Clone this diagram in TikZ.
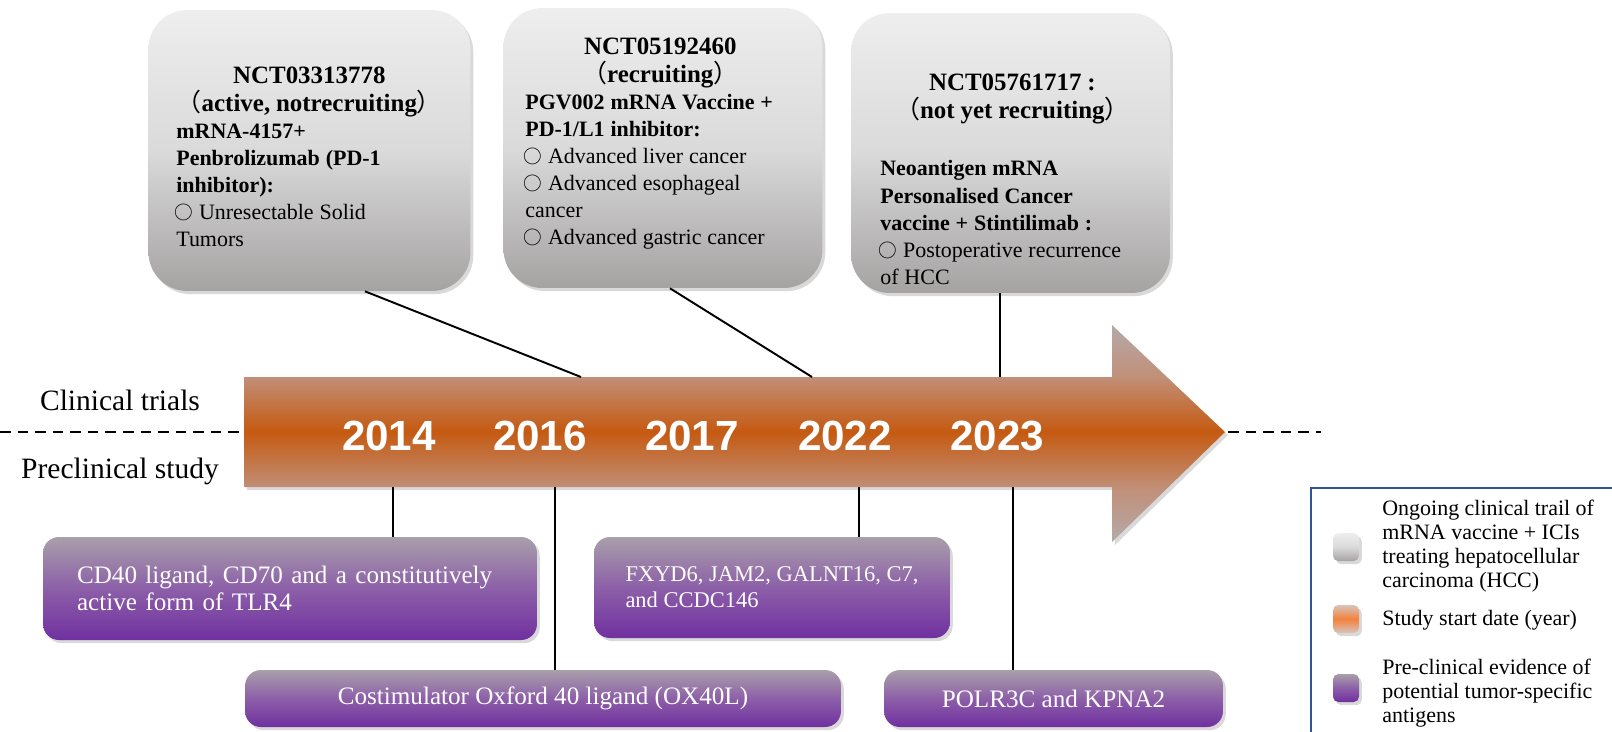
\documentclass[tikz,border=0pt]{standalone}
\usepackage{fontspec}
\setmainfont{Liberation Serif}
\newfontfamily\yearfont{Liberation Sans}
\newfontfamily\cjk{Noto Sans CJK SC}
\usetikzlibrary{shadows,calc}

\definecolor{boxtop}{HTML}{EEEEEE}
\definecolor{boxmid}{HTML}{DADADA}
\definecolor{boxbot}{HTML}{A5A2A2}
\definecolor{purtop}{HTML}{A99FAA}
\definecolor{purmid}{HTML}{8C5FA8}
\definecolor{purbot}{HTML}{7030A0}
\definecolor{arrgray}{HTML}{B5A9A9}
\definecolor{arrtan}{HTML}{C18F78}
\definecolor{arrmid}{HTML}{C55A11}
\definecolor{legblue}{HTML}{2F5597}
\definecolor{legorange}{HTML}{F4813B}
\definecolor{legpale}{HTML}{D8C4BC}

\pgfdeclareverticalshading{timeline}{100bp}{color(0bp)=(arrgray); color(25bp)=(arrgray); color(37.5bp)=(arrtan); color(50.5bp)=(arrmid); color(63bp)=(arrtan); color(75bp)=(arrgray); color(100bp)=(arrgray)}

\newcommand{\hdfont}{\fontsize{14.2}{15.4}\selectfont\bfseries}
\newcommand{\bdfont}{\fontsize{12.5}{15.4}\selectfont\bfseries}
\newcommand{\rgfont}{\fontsize{12.5}{15.4}\selectfont\mdseries}
\newcommand{\cjkl}{{\cjk\mdseries （}}
\newcommand{\cjkr}{{\cjk\mdseries ）}}
\newcommand{\bul}{{\cjk\mdseries\fontsize{10.6}{15.4}\selectfont\hspace{-1pt}○}}

\tikzset{
  softshadow/.style={drop shadow={opacity=.3, shadow xshift=1.6pt, shadow yshift=-1.8pt}},
  trialbox/.style={rectangle, rounded corners=22pt, top color=boxtop, bottom color=boxbot, middle color=boxmid, softshadow},
  trialtext/.style={inner sep=0pt, anchor=north west, text width=#1},
  prebox/.style={rectangle, rounded corners=9pt, top color=purtop, bottom color=purbot, middle color=purmid, softshadow,
    text=white, align=left, font=\fontsize{14.3}{15}\selectfont},
  yearlabel/.style={text=white, font=\yearfont\bfseries\fontsize{24}{24}\selectfont},
  sidelabel/.style={font=\fontsize{16.8}{17}\selectfont},
  conn/.style={line width=1.1pt},
  midline/.style={line width=1.1pt, dash pattern=on 6pt off 4pt},
  legicon/.style={rectangle, rounded corners=3pt, minimum width=.52cm, minimum height=.56cm, softshadow},
  legtext/.style={inner sep=0pt, anchor=west, align=left, font=\fontsize{12.5}{13.7}\selectfont}
}

\begin{document}
\begin{tikzpicture}[x=0.02cm, y=-0.02cm]
  \useasboundingbox (0,0) rectangle (1612,731);
  \clip (0,0) rectangle (1612,731);

  \coordinate (tail) at (244,432);
  \coordinate (tip) at (1228,432);
  \draw[midline] (0,432) -- (tail);
  \draw[midline] (tip) -- (1321,432);

  \shade[shading=timeline, softshadow] (244,377) -- (1112,377) -- (1112,325) -- (1225,432)
    -- (1112,542) -- (1112,487) -- (244,487) -- cycle;

  \foreach \yr/\xx in {2014/389, 2016/540, 2017/692, 2022/845, 2023/997}
    \node[yearlabel] (y\yr) at (\xx,436) {\yr};

  \node[sidelabel] (clin) at (120,400) {Clinical trials};
  \node[sidelabel] (precl) at (120,471) {Preclinical study};

  \node[trialbox, minimum width=6.44cm, minimum height=5.62cm] (t1) at (309.5,150.5) {};
  \node[trialbox, minimum width=6.38cm, minimum height=5.6cm] (t2) at (663,148) {};
  \node[trialbox, minimum width=6.38cm, minimum height=5.6cm] (t3) at (1010.5,153) {};

  \node[trialtext=5.32cm] (tx1) at (176,67) {{\centering\hdfont NCT03313778\\\cjkl active, notrecruiting\cjkr\par}
    {\raggedright\bdfont mRNA-4157+\\Penbrolizumab (PD-1\\inhibitor):\\\rgfont \bul\ Unresectable Solid\\Tumors\par}};
  \node[trialtext=5.4cm] (tx2) at (525,38) {{\centering\hdfont NCT05192460\\\cjkl recruiting\cjkr\par}
    {\raggedright\bdfont PGV002 mRNA Vaccine +\\PD-1/L1 inhibitor:\\\rgfont \bul\ Advanced liver cancer\\\bul\ Advanced esophageal\\cancer\\\bul\ Advanced gastric cancer\par}};
  \node[trialtext=5.28cm] (tx3) at (880,74) {{\centering\hdfont NCT05761717 :\\\cjkl not yet recruiting\cjkr\par}
    \vspace{17.6pt}
    {\raggedright\bdfont Neoantigen mRNA\\Personalised Cancer\\vaccine + Stintilimab :\\\rgfont \bul\ Postoperative recurrence\\of HCC\par}};

  \coordinate (c1) at (581,377);
  \coordinate (c2) at (812,377);
  \coordinate (c3) at (1000,377);
  \draw[conn] ($(t1.south)+(55.5,0)$) -- (c1);
  \draw[conn] ($(t2.south)+(7,0)$) -- (c2);
  \draw[conn] (c3 |- t3.south) -- (c3);

  \node[prebox, minimum width=9.88cm, minimum height=2.06cm, text width=8.52cm] (p1) at (290,588.5)
    {CD40 ligand, CD70 and a constitutively\\active form of TLR4};
  \node[prebox, minimum width=7.12cm, minimum height=2.02cm, font=\fontsize{12.8}{14.8}\selectfont] (p2) at (772,587.5)
    {FXYD6, JAM2, GALNT16, C7,\\and CCDC146};
  \node[prebox, minimum width=11.92cm, minimum height=1.14cm] (p3) at (543,698.5)
    {Costimulator Oxford 40 ligand (OX40L)};
  \node[prebox, minimum width=6.78cm, minimum height=1.14cm] (p4) at (1053.5,698.5)
    {POLR3C and KPNA2};

  \coordinate (d1) at (393,487);
  \coordinate (d2) at (555,487);
  \coordinate (d3) at (859,487);
  \coordinate (d4) at (1013,487);
  \draw[conn] (d1) -- (d1 |- p1.north);
  \draw[conn] (d2) -- (d2 |- p3.north);
  \draw[conn] (d3) -- (d3 |- p2.north);
  \draw[conn] (d4) -- (d4 |- p4.north);

  \draw[legblue, line width=1.2pt] (1311,488) rectangle (1660,780);
  \node[legicon, top color=boxtop, bottom color=boxbot, middle color=boxmid] (k1) at (1346,547) {};
  \node[legicon, top color=legpale, bottom color=legpale, middle color=legorange] (k2) at (1346,619) {};
  \node[legicon, top color=purtop, bottom color=purbot, middle color=purmid] (k3) at (1346,688) {};
  \node[legtext] (l1) at (1382,546) {Ongoing clinical trail of\\mRNA vaccine + ICIs\\treating hepatocellular\\carcinoma (HCC)};
  \node[legtext] (l2) at (1382,620) {Study start date (year)};
  \node[legtext] (l3) at (1382,693) {Pre-clinical evidence of\\potential tumor-specific\\antigens};
\end{tikzpicture}
\end{document}
